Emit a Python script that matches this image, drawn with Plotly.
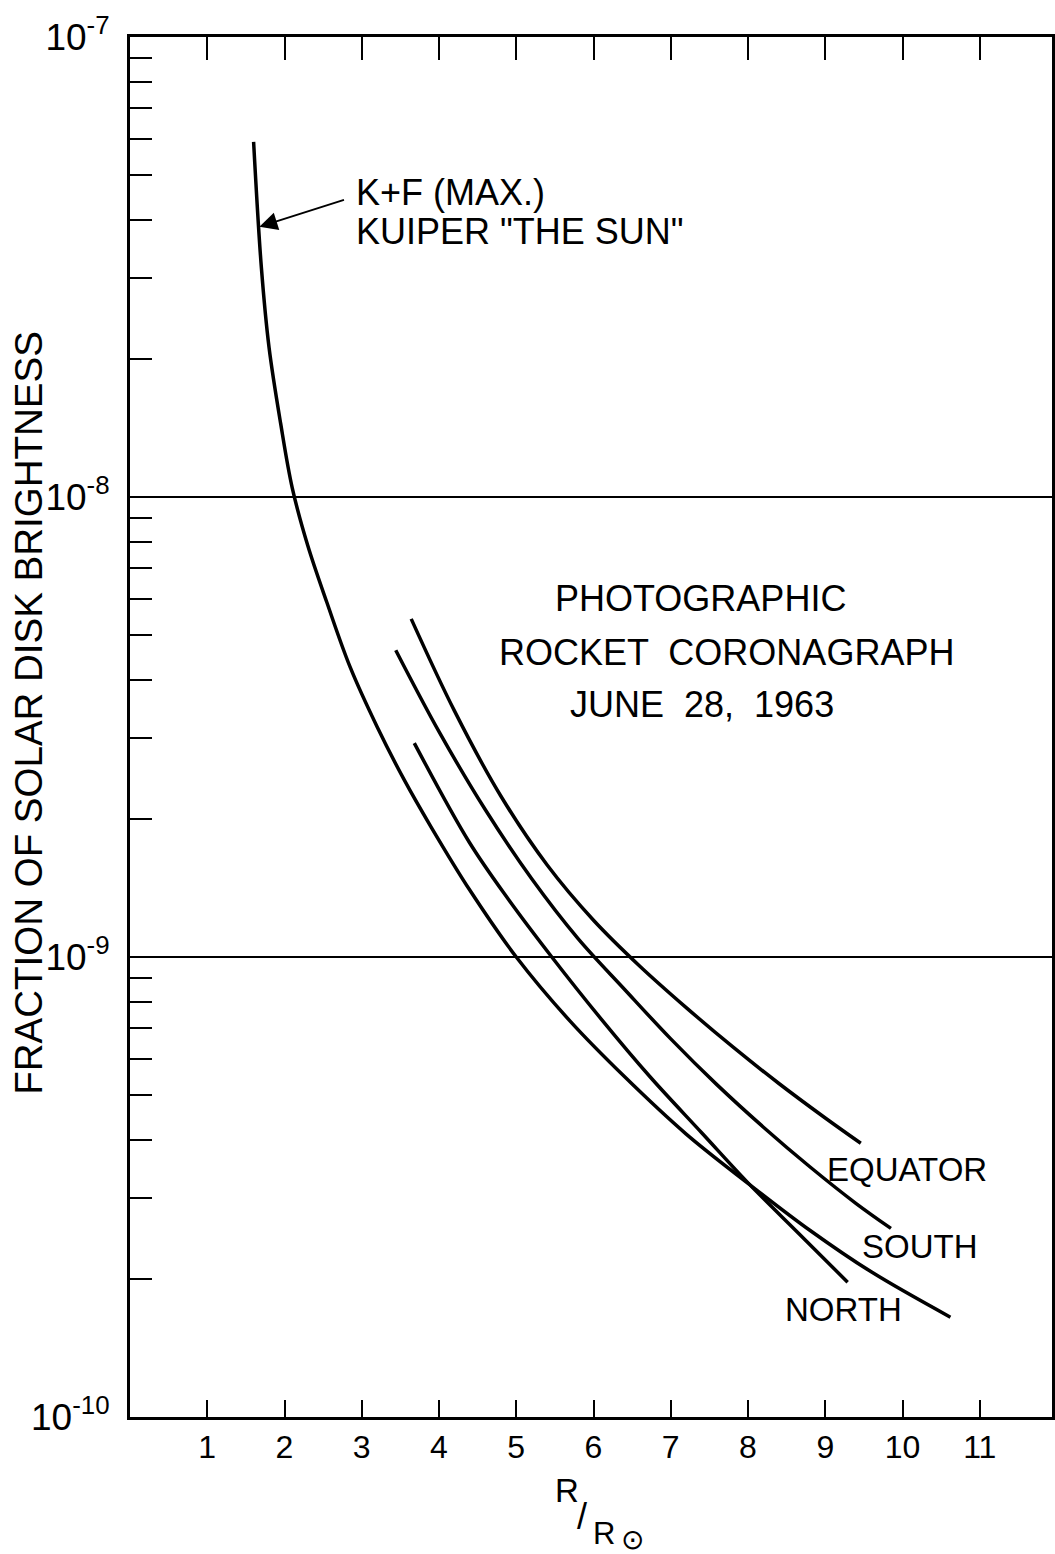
import plotly.graph_objects as go

# ---------------- data ----------------
# K+F (MAX.) Kuiper "The Sun"
kf_r = [1.60, 1.70, 1.80, 1.95, 2.10, 2.30, 2.55, 2.85, 3.20, 3.55, 3.90, 4.40,
        5.00, 5.70, 6.40, 7.20, 8.00, 8.80, 9.60, 10.62]
kf_log = [-7.228, -7.500, -7.675, -7.840, -7.980, -8.105, -8.230, -8.370, -8.500,
          -8.615, -8.718, -8.855, -9.000, -9.140, -9.260, -9.385, -9.492, -9.594,
          -9.685, -9.783]

# Equator
eq_r = [3.64, 4.20, 4.80, 5.40, 6.00, 6.60, 7.20, 7.80, 8.40, 9.00, 9.46]
eq_log = [-8.265, -8.465, -8.650, -8.800, -8.920, -9.020, -9.110, -9.195, -9.275,
          -9.350, -9.405]

# South
so_r = [3.44, 4.00, 4.60, 5.20, 5.80, 6.40, 7.00, 7.60, 8.20, 8.80, 9.40, 9.85]
so_log = [-8.333, -8.510, -8.680, -8.830, -8.960, -9.070, -9.178, -9.278, -9.370,
          -9.456, -9.536, -9.590]

# North
no_r = [3.68, 4.39, 4.90, 5.46, 6.10, 6.74, 7.40, 8.00, 8.65, 9.29]
no_log = [-8.535, -8.750, -8.875, -9.000, -9.135, -9.262, -9.382, -9.491, -9.600,
          -9.707]

x_ticks = [1, 2, 3, 4, 5, 6, 7, 8, 9, 10, 11]
x_ticktext = ["1", "2", "3", "4", "5", "6", "7", "8", "9", "10", "11"]
y_decades = [-10, -9, -8, -7]
y_ticktext = ["10<sup>-10</sup>", "10<sup>-9</sup>", "10<sup>-8</sup>", "10<sup>-7</sup>"]
y_minor_digits = [2, 3, 4, 5, 6, 7, 8, 9]

FONT = "Liberation Sans, Arial, sans-serif"
X_MAX = 11.935


def to_lin(vals):
    return [10 ** v for v in vals]


fig = go.Figure()
line = dict(color="black", width=3.5, shape="spline", smoothing=1.0)
for r, lg in [(kf_r, kf_log), (eq_r, eq_log), (so_r, so_log), (no_r, no_log)]:
    fig.add_trace(go.Scatter(x=r, y=to_lin(lg), mode="lines", line=line,
                             hoverinfo="skip", showlegend=False))

y_major = [10 ** d for d in y_decades]
y_minor = [m * 10 ** d for d in y_decades[:-1] for m in y_minor_digits]

fig.update_layout(
    width=1055, height=1554,
    margin=dict(l=130, r=0, t=37, b=137),
    plot_bgcolor="white", paper_bgcolor="white",
    font=dict(family=FONT, color="black"),
    showlegend=False,
    xaxis=dict(
        range=[0, X_MAX], tickvals=x_ticks, ticktext=x_ticktext,
        ticks="inside", ticklen=17, tickwidth=2, tickcolor="black",
        showline=True, linewidth=3, linecolor="black", mirror=True,
        showgrid=False, zeroline=False,
        tickfont=dict(size=32, family=FONT), ticklabelstandoff=0,
    ),
    xaxis2=dict(
        range=[0, X_MAX], tickvals=x_ticks, overlaying="x", side="top",
        ticks="inside", ticklen=23, tickwidth=2, tickcolor="black",
        showticklabels=False, showline=False, showgrid=False, zeroline=False,
    ),
    yaxis=dict(
        type="log", range=[-10, -7], tickvals=y_major, ticktext=y_ticktext,
        ticks="inside", ticklen=22, tickwidth=2, tickcolor="black",
        showline=True, linewidth=3, linecolor="black", mirror=True,
        showgrid=True, gridcolor="black", gridwidth=2, zeroline=False,
        tickfont=dict(size=37, family=FONT), ticklabelstandoff=10,
        minor=dict(tickvals=y_minor, ticks="inside", ticklen=22, tickwidth=2,
                   tickcolor="black", showgrid=False),
    ),
)
# invisible trace so the top tick axis is drawn
fig.add_trace(go.Scatter(x=[x_ticks[0]], y=[y_major[0]], xaxis="x2", mode="markers",
                         marker=dict(opacity=0), hoverinfo="skip", showlegend=False))

# y-axis title
fig.add_annotation(xref="paper", yref="paper", x=-0.110, y=0.510,
                   text="FRACTION OF SOLAR DISK BRIGHTNESS", textangle=-90,
                   showarrow=False, font=dict(size=38.5, family=FONT),
                   xanchor="center", yanchor="middle")


def px_x(p):
    return (p - 130) / 925.0


def px_y(p):
    return (1417 - p) / 1380.0


# x-axis title R / R(sun)
for txt, cx, cy, sz in [("R", 568, 1490, 33), ("/", 583, 1516, 36),
                        ("R", 606, 1533, 31), ("\u2299", 634, 1539, 28)]:
    fig.add_annotation(xref="paper", yref="paper", x=px_x(cx), y=px_y(cy), text=txt,
                       showarrow=False, font=dict(size=sz, family=FONT),
                       xanchor="center", yanchor="middle")

# main caption
cap_font = dict(size=36, family=FONT)
fig.add_annotation(x=7.39, y=-8.22, text="PHOTOGRAPHIC", showarrow=False, font=cap_font)
fig.add_annotation(x=7.72, y=-8.337, text="ROCKET  CORONAGRAPH", showarrow=False, font=cap_font)
fig.add_annotation(x=7.41, y=-8.452, text="JUNE  28,  1963", showarrow=False, font=cap_font)

# K+F label and arrow
kf_font = dict(size=36, family=FONT)
fig.add_annotation(xref="paper", yref="paper", x=px_x(355), y=px_y(192),
                   text="K+F (MAX.)", showarrow=False, font=kf_font,
                   xanchor="left", yanchor="middle")
fig.add_annotation(xref="paper", yref="paper", x=px_x(355), y=px_y(232),
                   text="KUIPER \"THE SUN\"", showarrow=False, font=kf_font,
                   xanchor="left", yanchor="middle")
# arrow head on the K+F curve between its first two points
arrow_r = (kf_r[0] + kf_r[1]) / 2
arrow_log = (kf_log[0] + kf_log[1]) / 2 - 0.05
fig.add_annotation(x=arrow_r, y=arrow_log, ax=88, ay=-28, axref="pixel", ayref="pixel",
                   text="", showarrow=True, arrowhead=2, arrowsize=1.8,
                   arrowwidth=2, arrowcolor="black", standoff=2)

# curve labels
lab_font = dict(size=33, family=FONT)
fig.add_annotation(x=10.06, y=-9.461, text="EQUATOR", showarrow=False, font=lab_font)
fig.add_annotation(x=10.22, y=-9.630, text="SOUTH", showarrow=False, font=lab_font)
fig.add_annotation(x=9.24, y=-9.767, text="NORTH", showarrow=False, font=lab_font)

fig.write_html("out.html")
